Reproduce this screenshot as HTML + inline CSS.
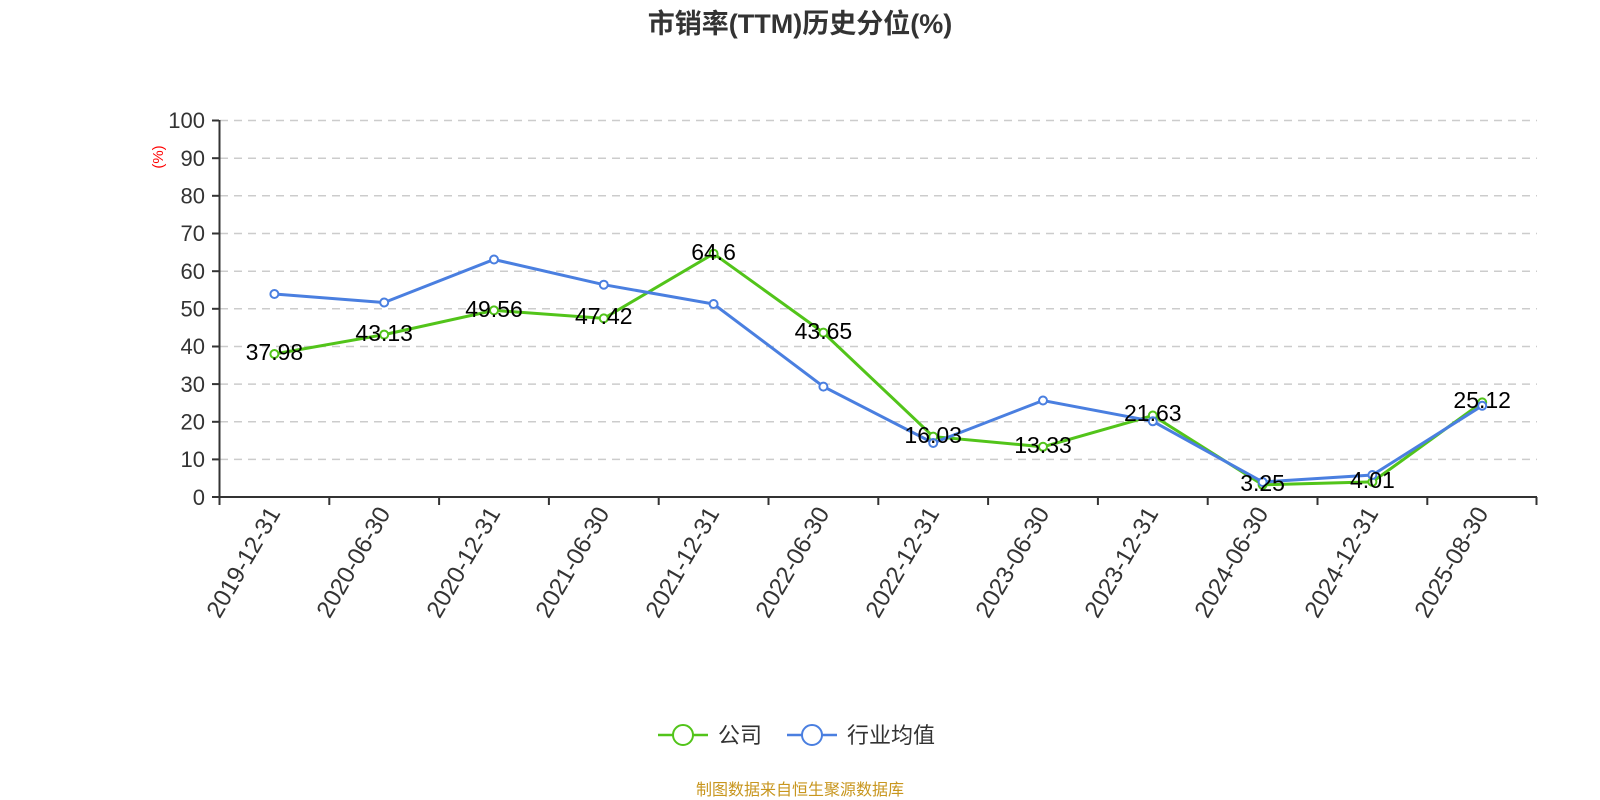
<!DOCTYPE html>
<html><head><meta charset="utf-8"><style>
html,body{margin:0;padding:0;background:#fff;}
svg{display:block;font-family:"Liberation Sans","Noto Sans CJK SC",sans-serif;}
</style></head><body>
<svg width="1600" height="800" viewBox="0 0 1600 800" xmlns="http://www.w3.org/2000/svg">
<text x="800" y="33" text-anchor="middle" font-size="27" font-weight="bold" fill="#333">市销率(TTM)历史分位(%)</text>
<g stroke="#ccc" stroke-width="1.5" stroke-dasharray="8,6">
<line x1="220" x2="1537" y1="120.5" y2="120.5"/>
<line x1="220" x2="1537" y1="158.2" y2="158.2"/>
<line x1="220" x2="1537" y1="195.8" y2="195.8"/>
<line x1="220" x2="1537" y1="233.5" y2="233.5"/>
<line x1="220" x2="1537" y1="271.2" y2="271.2"/>
<line x1="220" x2="1537" y1="308.8" y2="308.8"/>
<line x1="220" x2="1537" y1="346.5" y2="346.5"/>
<line x1="220" x2="1537" y1="384.1" y2="384.1"/>
<line x1="220" x2="1537" y1="421.8" y2="421.8"/>
<line x1="220" x2="1537" y1="459.4" y2="459.4"/>
</g>
<g stroke="#333" stroke-width="2">
<line x1="219.5" x2="219.5" y1="120" y2="497"/>
<line x1="212" x2="1537" y1="497" y2="497"/>
<line x1="212" x2="219" y1="120.5" y2="120.5"/><line x1="212" x2="219" y1="158.2" y2="158.2"/><line x1="212" x2="219" y1="195.8" y2="195.8"/><line x1="212" x2="219" y1="233.5" y2="233.5"/><line x1="212" x2="219" y1="271.2" y2="271.2"/><line x1="212" x2="219" y1="308.8" y2="308.8"/><line x1="212" x2="219" y1="346.5" y2="346.5"/><line x1="212" x2="219" y1="384.1" y2="384.1"/><line x1="212" x2="219" y1="421.8" y2="421.8"/><line x1="212" x2="219" y1="459.4" y2="459.4"/>
<line x1="219.5" x2="219.5" y1="497" y2="505"/><line x1="329.3" x2="329.3" y1="497" y2="505"/><line x1="439.1" x2="439.1" y1="497" y2="505"/><line x1="548.9" x2="548.9" y1="497" y2="505"/><line x1="658.7" x2="658.7" y1="497" y2="505"/><line x1="768.5" x2="768.5" y1="497" y2="505"/><line x1="878.3" x2="878.3" y1="497" y2="505"/><line x1="988.1" x2="988.1" y1="497" y2="505"/><line x1="1097.9" x2="1097.9" y1="497" y2="505"/><line x1="1207.7" x2="1207.7" y1="497" y2="505"/><line x1="1317.5" x2="1317.5" y1="497" y2="505"/><line x1="1427.3" x2="1427.3" y1="497" y2="505"/><line x1="1536.5" x2="1536.5" y1="497" y2="505"/>
</g>
<g font-size="22" fill="#333" text-anchor="end">
<text x="205" y="128">100</text><text x="205" y="166">90</text><text x="205" y="203.5">80</text><text x="205" y="241">70</text><text x="205" y="279">60</text><text x="205" y="316.5">50</text><text x="205" y="354">40</text><text x="205" y="392">30</text><text x="205" y="429.5">20</text><text x="205" y="467">10</text><text x="205" y="505">0</text>
</g>
<text transform="translate(163,157) rotate(-90)" text-anchor="middle" font-size="15" fill="red">(%)</text>
<g font-size="24" fill="#333" text-anchor="end">
<text transform="translate(281,513) rotate(-60)">2019-12-31</text>
<text transform="translate(391,513) rotate(-60)">2020-06-30</text>
<text transform="translate(501,513) rotate(-60)">2020-12-31</text>
<text transform="translate(610,513) rotate(-60)">2021-06-30</text>
<text transform="translate(720,513) rotate(-60)">2021-12-31</text>
<text transform="translate(830,513) rotate(-60)">2022-06-30</text>
<text transform="translate(940,513) rotate(-60)">2022-12-31</text>
<text transform="translate(1050,513) rotate(-60)">2023-06-30</text>
<text transform="translate(1159,513) rotate(-60)">2023-12-31</text>
<text transform="translate(1269,513) rotate(-60)">2024-06-30</text>
<text transform="translate(1379,513) rotate(-60)">2024-12-31</text>
<text transform="translate(1489,513) rotate(-60)">2025-08-30</text>
</g>
<polyline fill="none" stroke="#52c41a" stroke-width="3" points="274.4,354 384.2,334.6 494,310.4 603.8,318.4 713.6,253.7 823.4,332.6 933.2,436.6 1043,446.8 1152.8,415.5 1262.6,484.8 1372.4,481.9 1482.2,402.4" />
<g fill="#fff" stroke="#52c41a" stroke-width="2">
<circle cx="274.4" cy="354" r="4"/><circle cx="384.2" cy="334.6" r="4"/><circle cx="494" cy="310.4" r="4"/><circle cx="603.8" cy="318.4" r="4"/><circle cx="713.6" cy="253.7" r="4"/><circle cx="823.4" cy="332.6" r="4"/><circle cx="933.2" cy="436.6" r="4"/><circle cx="1043" cy="446.8" r="4"/><circle cx="1152.8" cy="415.5" r="4"/><circle cx="1262.6" cy="484.8" r="4"/><circle cx="1372.4" cy="481.9" r="4"/><circle cx="1482.2" cy="402.4" r="4"/>
</g>
<polyline fill="none" stroke="#4a7fe0" stroke-width="3" points="274.4,294 384.2,302.5 494,259.5 603.8,284.7 713.6,304 823.4,386.6 933.2,443 1043,400.5 1152.8,421.3 1262.6,482 1372.4,475 1482.2,405.7" />
<g fill="#fff" stroke="#4a7fe0" stroke-width="2">
<circle cx="274.4" cy="294" r="4"/><circle cx="384.2" cy="302.5" r="4"/><circle cx="494" cy="259.5" r="4"/><circle cx="603.8" cy="284.7" r="4"/><circle cx="713.6" cy="304" r="4"/><circle cx="823.4" cy="386.6" r="4"/><circle cx="933.2" cy="443" r="4"/><circle cx="1043" cy="400.5" r="4"/><circle cx="1152.8" cy="421.3" r="4"/><circle cx="1262.6" cy="482" r="4"/><circle cx="1372.4" cy="475" r="4"/><circle cx="1482.2" cy="405.7" r="4"/>
</g>
<g font-size="23" fill="#000" text-anchor="middle">
<text x="274.4" y="360">37.98</text><text x="384.2" y="341">43.13</text><text x="494" y="317">49.56</text><text x="603.8" y="324">47.42</text><text x="713.6" y="260">64.6</text><text x="823.4" y="339">43.65</text><text x="933.2" y="443">16.03</text><text x="1043" y="453">13.33</text><text x="1152.8" y="421">21.63</text><text x="1262.6" y="491">3.25</text><text x="1372.4" y="488">4.01</text><text x="1482.2" y="408">25.12</text>
</g>
<line x1="658" x2="708" y1="735" y2="735" stroke="#52c41a" stroke-width="2.5"/>
<circle cx="683" cy="735" r="10" fill="#fff" stroke="#52c41a" stroke-width="2"/>
<text x="718" y="743" font-size="22" fill="#333">公司</text>
<line x1="787" x2="837" y1="735" y2="735" stroke="#4a7fe0" stroke-width="2.5"/>
<circle cx="812" cy="735" r="10" fill="#fff" stroke="#4a7fe0" stroke-width="2"/>
<text x="847" y="743" font-size="22" fill="#333">行业均值</text>
<text x="800" y="795" text-anchor="middle" font-size="16" fill="#c8961e">制图数据来自恒生聚源数据库</text>
</svg>
</body></html>
